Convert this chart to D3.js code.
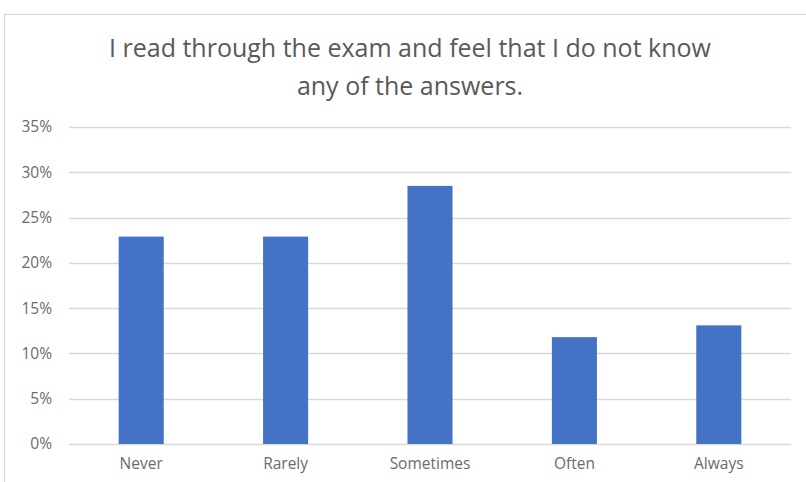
<!DOCTYPE html>
<html><head><meta charset="utf-8">
<script src="https://cdn.jsdelivr.net/npm/d3@7"></script>
<style>body{margin:0;background:#fff}svg{display:block}</style>
</head><body>
<script>
const titleLines = ["I read through the exam and feel that I do not know", "any of the answers."];
const categories = ["Never", "Rarely", "Sometimes", "Often", "Always"];
const values = [0.229, 0.229, 0.285, 0.118, 0.131];
const yTicks = [0, 0.05, 0.10, 0.15, 0.20, 0.25, 0.30, 0.35];

(function () {
const W = 806, H = 482;
const svg = d3.select("body").append("svg").attr("width", W).attr("height", H);
const font = "'Open Sans', 'Noto Sans', sans-serif";

svg.append("rect").attr("x", 4.5).attr("y", 14.5).attr("width", W + 10).attr("height", H + 10)
  .attr("fill", "#fff").attr("stroke", "#d9d9d9").attr("stroke-width", 1.2);

const mLeft = 69, mRight = 791, mTop = 127, mBottom = 444;
const x = d3.scaleBand().domain(categories).range([mLeft, mRight]).paddingInner(0.688).paddingOuter(0.344);
const y = d3.scaleLinear().domain([0, 0.35]).range([mBottom, mTop]);

svg.append("g").selectAll("line").data(yTicks).join("line")
  .attr("x1", mLeft).attr("x2", mRight)
  .attr("y1", d => Math.round(y(d)) + 0.5).attr("y2", d => Math.round(y(d)) + 0.5)
  .attr("stroke", "#d9d9d9").attr("stroke-width", 1.3);

const yAxis = d3.axisLeft(y).tickValues(yTicks).tickFormat(d3.format(".0%")).tickSize(0).tickPadding(0);
const ya = svg.append("g").attr("transform", `translate(${52},0)`).call(yAxis);
ya.select(".domain").remove();
ya.selectAll("text").attr("fill", "#6b6b6b").style("font-family", font).style("font-size", "15.5px");

svg.append("g").selectAll("rect").data(values).join("rect")
  .attr("x", (d, i) => x(categories[i]))
  .attr("width", x.bandwidth())
  .attr("y", d => y(d))
  .attr("height", d => y(0) - y(d))
  .attr("fill", "#4472C4");

const xAxis = d3.axisBottom(x).tickSize(0).tickPadding(0);
const xa = svg.append("g").attr("transform", `translate(0,${mBottom + 14})`).call(xAxis);
xa.select(".domain").remove();
xa.selectAll("text").attr("fill", "#6b6b6b").style("font-family", font).style("font-size", "15.5px");

svg.append("g").selectAll("text").data(titleLines).join("text")
  .attr("x", 410).attr("y", (d, i) => 57 + i * 38)
  .attr("text-anchor", "middle")
  .attr("fill", "#595959")
  .style("font-family", font).style("font-size", "25px")
  .text(d => d);
})();
</script>
</body></html>
